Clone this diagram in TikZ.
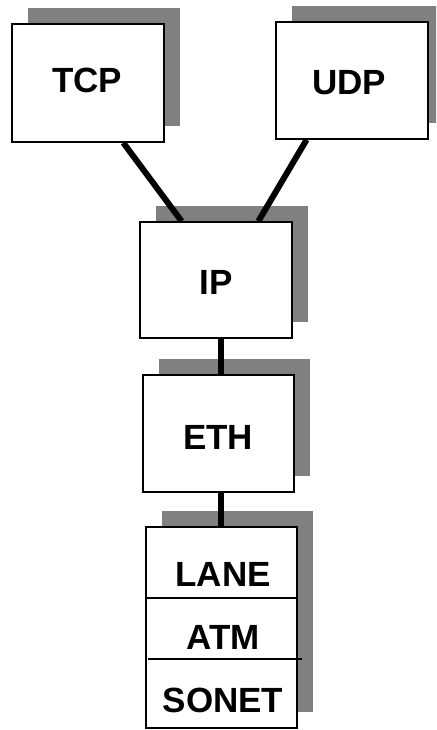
\documentclass[tikz,border=0pt]{standalone}
\usepackage{fontspec}
\setmainfont{Liberation Sans}
\usetikzlibrary{calc,shadows}
\definecolor{shadowgray}{HTML}{808080}
\tikzset{
  layerbox/.style={draw=black, line width=1.5pt, fill=white, inner sep=0pt,
    drop shadow={shadow xshift=16pt, shadow yshift=16pt, fill=shadowgray, opacity=1}},
  lbl/.style={inner sep=0pt, font=\fontsize{35}{40}\selectfont\bfseries},
  link/.style={line width=6pt, line cap=butt},
  divider/.style={line width=1.2pt}
}
\begin{document}
\begin{tikzpicture}[x=1pt,y=-1pt]
\useasboundingbox (0,0) rectangle (436,730);
\clip (0,0) rectangle (436,730);
% boxes
\node[layerbox, minimum width=152pt, minimum height=118pt] (tcp) at (88,83) {};
\node[layerbox, minimum width=152pt, minimum height=117pt] (udp) at (352,80.5) {};
\node[layerbox, minimum width=152pt, minimum height=116pt] (ip) at (216,280) {};
\node[layerbox, minimum width=151pt, minimum height=117pt] (eth) at (218.5,433.5) {};
\node[layerbox, minimum width=151pt, minimum height=201pt] (stack) at (221.5,627.5) {};
% labels
\node[lbl] (tcpl) at (87,80) {TCP};
\node[lbl] (udpl) at (349,83) {UDP};
\node[lbl] (ipl) at (216,282) {IP};
\node[lbl] (ethl) at (218,437) {ETH};
\node[lbl] (lanel) at (223,574.5) {LANE};
\node[lbl] (atml) at (223,637.5) {ATM};
\node[lbl] (sonetl) at (223,700) {SONET};
% dividers in stack
\coordinate (d1) at (0,598);
\coordinate (d2) at (0,659);
\draw[divider] (stack.west |- d1) -- (stack.east |- d1);
\draw[divider] ($(stack.west |- d2)+(3,0)$) -- ($(stack.east |- d2)+(4,0)$);
% connectors
\coordinate (vx) at (221,0);
\draw[link] ($(tcp.south west)!0.73!(tcp.south east)$) -- ($(ip.north west)!0.276!(ip.north east)$);
\draw[link] ($(udp.south west)!0.204!(udp.south east)$) -- ($(ip.north west)!0.776!(ip.north east)$);
\draw[link] (ip.south -| vx) -- (eth.north -| vx);
\draw[link] (eth.south -| vx) -- (stack.north -| vx);
\end{tikzpicture}
\end{document}
